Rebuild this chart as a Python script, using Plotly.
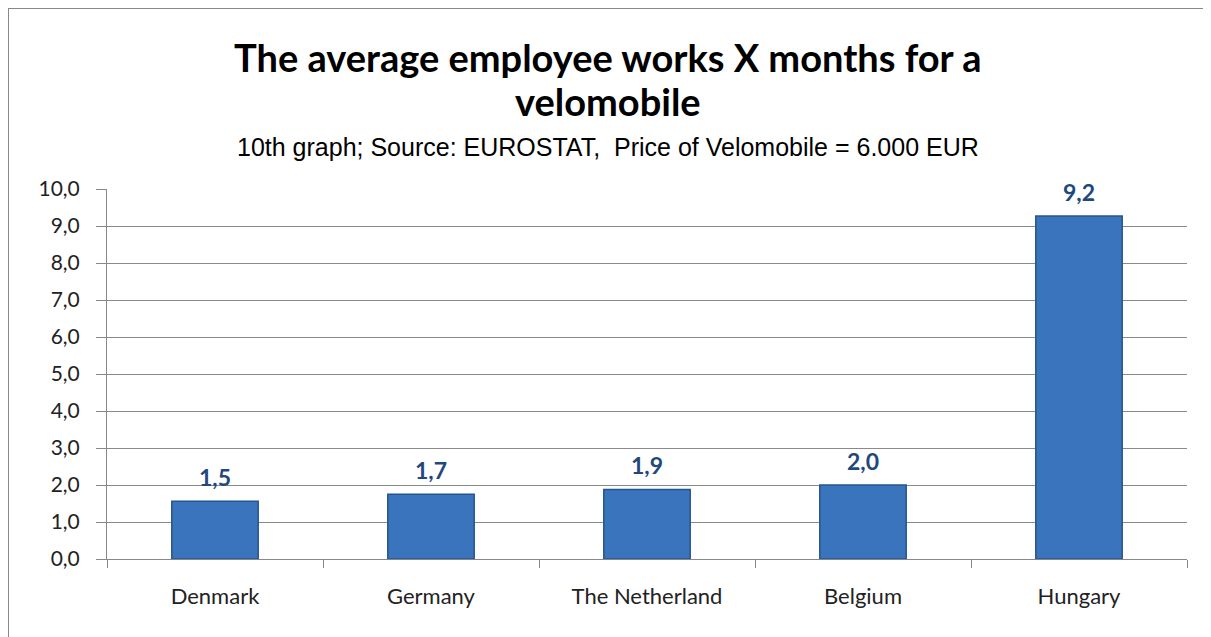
import plotly.graph_objects as go

countries = ["Denmark", "Germany", "The Netherland", "Belgium", "Hungary"]
months = [1.56, 1.75, 1.88, 2.0, 9.27]
labels = ["1,5", "1,7", "1,9", "2,0", "9,2"]
y_ticks = [0, 1, 2, 3, 4, 5, 6, 7, 8, 9, 10]
y_tick_text = ["0,0", "1,0", "2,0", "3,0", "4,0", "5,0", "6,0", "7,0", "8,0", "9,0", "10,0"]

title_line1 = "The average employee works X months for a"
title_line2 = "velomobile"
subtitle = "10th graph; Source: EUROSTAT,  Price of Velomobile = 6.000 EUR"

OFF = 8  # default page body margin
W, H = 1211 - OFF, 637 - OFF
L, R, T, B = 107 - OFF, 24, 189 - OFF, 78
ph = H - T - B
pw = W - L - R

def py(pix):
    return (H - B - (pix - OFF)) / ph

def px(pix):
    return (pix - OFF - L) / pw

fig = go.Figure()
fig.add_trace(go.Bar(
    x=countries, y=months,
    marker=dict(color="#3A74BC", line=dict(color="#24558F", width=1.5)),
    width=0.4,
))

label_annotations = [
    dict(x=c, y=v, text="<b>" + t + "</b>", xref="x", yref="y", showarrow=False,
         yanchor="bottom", yshift=8,
         font=dict(family="Lato, Open Sans, sans-serif", size=23, color="#1F497D"))
    for c, v, t in zip(countries, months, labels)
]

fig.update_layout(
    width=W, height=H,
    margin=dict(l=L, r=R, t=T, b=B),
    paper_bgcolor="white", plot_bgcolor="white",
    showlegend=False,
    font=dict(family="Lato, Open Sans, sans-serif", color="#222"),
    xaxis=dict(
        type="category", tickson="boundaries", ticks="outside", ticklen=8,
        tickcolor="#888", showline=True, linecolor="#888", linewidth=1,
        tickfont=dict(size=22, color="#222"), showgrid=False,
        ticklabelstandoff=18,
    ),
    yaxis=dict(
        range=[0, 10], tickvals=y_ticks, ticktext=y_tick_text,
        ticks="outside", ticklen=10, tickcolor="#888",
        showline=True, linecolor="#888", linewidth=1,
        showgrid=True, gridcolor="#8a8a8a", gridwidth=1,
        tickfont=dict(size=21, color="#222"), zeroline=False,
        ticklabelstandoff=12,
    ),
    annotations=label_annotations + [
        dict(text="<b>" + title_line1 + "</b>", xref="paper", yref="paper",
             x=px(608), y=py(57), showarrow=False, xanchor="center", yanchor="middle",
             font=dict(family="Lato, sans-serif", size=38, color="black")),
        dict(text="<b>" + title_line2 + "</b>", xref="paper", yref="paper",
             x=px(608), y=py(101), showarrow=False, xanchor="center", yanchor="middle",
             font=dict(family="Lato, sans-serif", size=38, color="black")),
        dict(text=subtitle, xref="paper", yref="paper",
             x=px(608), y=py(147), showarrow=False, xanchor="center", yanchor="middle",
             font=dict(family="Liberation Sans, Arial, sans-serif", size=25, color="black")),
    ],
    shapes=[
        dict(type="rect", xref="paper", yref="paper",
             x0=px(8), x1=px(1205), y0=py(660), y1=py(8),
             line=dict(color="#888", width=2), fillcolor="rgba(0,0,0,0)", layer="below"),
    ],
)

fig.write_html("out.html")
